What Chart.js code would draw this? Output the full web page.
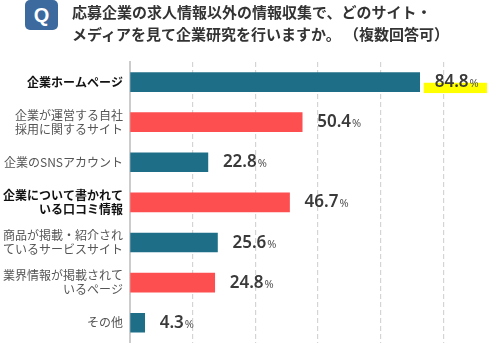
<!DOCTYPE html>
<html><head><meta charset="utf-8">
<script src="https://cdn.jsdelivr.net/npm/chart.js@4.4.1/dist/chart.umd.min.js"></script>
<style>
html,body{margin:0;padding:0;background:#fff;width:487px;height:355px;overflow:hidden;}
#wrap{position:absolute;left:0;top:0;width:487px;height:357px;}
#q{position:absolute;left:25px;top:0;width:33px;height:30px;background:#3c6a9e;border-radius:5px;color:#fff;font:bold 20px "Liberation Sans",Arial,sans-serif;text-align:center;line-height:30px;}
#title{position:absolute;left:72px;top:1px;font:bold 15px "Noto Sans CJK JP",sans-serif;color:#333;line-height:22px;white-space:nowrap;}
</style></head><body>
<div id="wrap"><canvas id="c"></canvas></div>
<div id="q">Q</div>
<div id="title">応募企業の求人情報以外の情報収集で、どのサイト・<br>メディアを見て企業研究を行いますか。 （複数回答可）</div>
<script>
const categories = [
  ['企業ホームページ'],
  ['企業が運営する自社','採用に関するサイト'],
  ['企業のSNSアカウント'],
  ['企業について書かれて','いる口コミ情報'],
  ['商品が掲載・紹介され','ているサービスサイト'],
  ['業界情報が掲載されて','いるページ'],
  ['その他']
];
const values = [84.8, 50.4, 22.8, 46.7, 25.6, 24.8, 4.3];
const boldLabels = [0, 3];
const highlighted = [0];
const gridStep = 110/6;
const TEAL = '#1f6e87', RED = '#fe4f50';
const barColors = values.map((v,i)=> i%2===0 ? TEAL : RED);

const valueLabels = {
  id:'valueLabels',
  afterDatasetsDraw(chart){
    const ctx = chart.ctx;
    const meta = chart.getDatasetMeta(0);
    ctx.save();
    meta.data.forEach((bar,i)=>{
      const x = bar.x, y = bar.y;
      if (highlighted.includes(i)) {
        ctx.fillStyle = '#ffff00';
        ctx.fillRect(x+4, y+0.7, chart.chartArea.right-(x+4), 10.3);
      }
      const num = values[i].toFixed(1);
      ctx.font = '600 17px "Noto Sans", sans-serif';
      ctx.fillStyle = '#3a3a3a';
      ctx.textBaseline = 'alphabetic';
      ctx.textAlign = 'left';
      const tx = x + 15;
      ctx.fillText(num, tx, y+5);
      const w = ctx.measureText(num).width;
      ctx.font = '11px "Noto Sans", sans-serif';
      ctx.fillStyle = '#555';
      ctx.fillText('%', tx + w + 1, y+5);
    });
    ctx.restore();
  }
};

new Chart(document.getElementById('c'), {
  type:'bar',
  data:{
    labels: categories,
    datasets:[{data: values, backgroundColor: barColors, barThickness:19, borderWidth:0}]
  },
  options:{
    indexAxis:'y',
    responsive:true,
    maintainAspectRatio:false,
    animation:false,
    layout:{padding:{top:62,right:0,bottom:1,left:0}},
    plugins:{legend:{display:false},tooltip:{enabled:false}},
    scales:{
      x:{
        min:0, max:104.5,
        afterBuildTicks(scale){
          const t=[]; for(let v=0; v<=scale.max+1e-6; v+=gridStep) t.push({value:v});
          scale.ticks=t;
        },
        ticks:{display:false},
        grid:{color:(c)=> c.index===0 ? 'rgba(0,0,0,0)' : '#d4d4d4', lineWidth:1.2, drawTicks:false},
        border:{display:false, dash:[5,3]},
      },
      y:{
        afterFit(scale){ scale.width = 130; },
        grid:{display:false, drawTicks:false},
        border:{display:true, color:'#cccccc', width:2},
        ticks:{
          padding:7,
          font:(c)=>({family:'"Noto Sans CJK JP", sans-serif', size:12, weight: boldLabels.includes(c.index)?'bold':'normal', lineHeight:1.2}),
          color:(c)=> boldLabels.includes(c.index) ? '#111' : '#555'
        }
      }
    }
  },
  plugins:[valueLabels]
});
</script>
</body></html>
